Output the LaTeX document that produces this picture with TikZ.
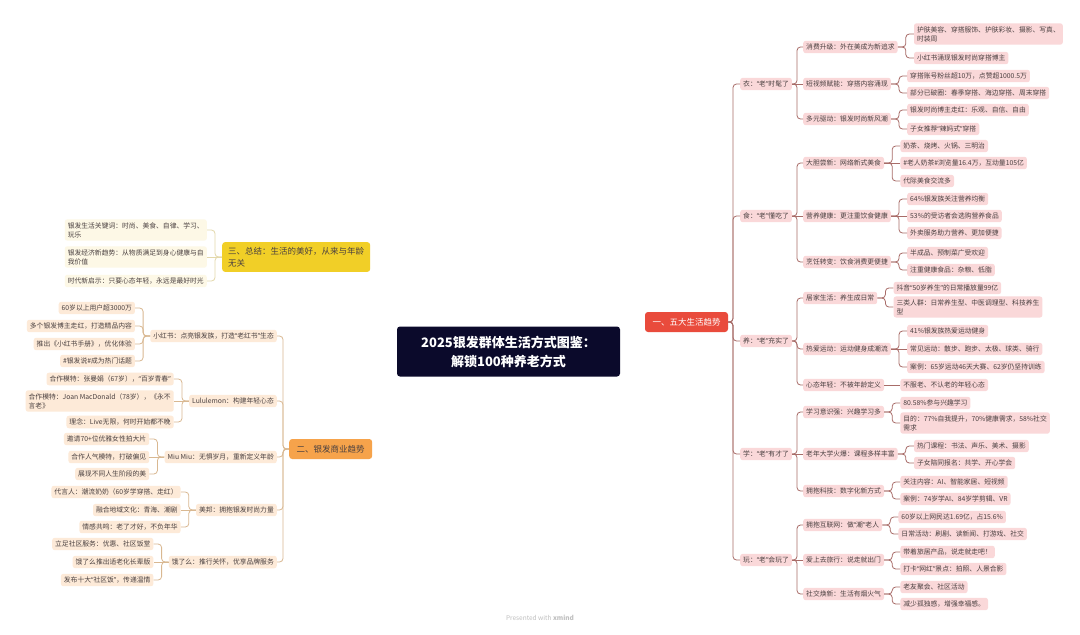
\documentclass[tikz,border=0pt]{standalone}
\usepackage{fontspec}
\setmainfont{Noto Sans CJK SC}
\newfontfamily\qfont{Noto Sans}
\newcommand\Qt[1]{{\qfont “}#1{\qfont ”}}
\usetikzlibrary{backgrounds,calc}
\definecolor{cRfill}{HTML}{FAD8D9}
\definecolor{cRline}{HTML}{A86C68}
\definecolor{cOfill}{HTML}{FDEAD8}
\definecolor{cOline}{HTML}{D9B891}
\definecolor{cYfill}{HTML}{FDF8E6}
\definecolor{cYline}{HTML}{E3D8AA}
\definecolor{cTxt}{HTML}{4A4040}
\definecolor{cNavy}{HTML}{0B0A2B}
\definecolor{cRed}{HTML}{E94B3C}
\definecolor{cOrange}{HTML}{F6A34B}
\definecolor{cYellow}{HTML}{F1CF27}
\definecolor{cRedCurve}{HTML}{C0504D}
\definecolor{cYCurve}{HTML}{D9D46A}
\definecolor{cOCurve}{HTML}{D6B27C}
\tikzset{
  base/.style={rounded corners=2.5pt, inner xsep=3pt, inner ysep=3pt, text=cTxt,
    font=\fontsize{6.8}{9}\selectfont, align=left},
  rbox/.style={base, fill=cRfill},
  obox/.style={base, fill=cOfill},
  ybox/.style={base, fill=cYfill},
  rcon/.style={draw=cRline, line width=0.8pt, rounded corners=3.5pt},
  ocon/.style={draw=cOline, line width=0.8pt, rounded corners=3.5pt},
  ycon/.style={draw=cYline, line width=0.8pt, rounded corners=3.5pt},
  main/.style={rounded corners=3pt, font=\fontsize{8.5}{12}\selectfont, minimum height=20pt, inner xsep=6pt},
  curve/.style={line width=1.2pt}
}
\newcommand\RL[4]{\path (#2.east) ++(16,0) coordinate (#1c);
  \node[rbox,anchor=west] (#1) at (#1c |- 0,#3) {#4};
  \draw[rcon] (#2.east) -- ++(8,0) |- (#1.west);}
\newcommand\RM[3]{\path (#2.east) ++(16,0) coordinate (#1c);
  \node[rbox,anchor=west] (#1) at (#1c) {#3};
  \draw[rcon] (#2.east) -- (#1.west);}
\newcommand\LL[5]{\path (#2.west) ++(-15,0) coordinate (#1c);
  \node[#5box,anchor=east] (#1) at (#1c |- 0,#3) {#4};
  \draw[#5con] (#2.west) -- ++(-7,0) |- (#1.east);}
\newcommand\LM[4]{\path (#2.west) ++(-15,0) coordinate (#1c);
  \node[#4box,anchor=east] (#1) at (#1c) {#3};
  \draw[#4con] (#2.west) -- (#1.east);}
\begin{document}
\begin{tikzpicture}[x=1pt,y=-1pt]
\fill[white] (0,0) rectangle (1080,635);
\useasboundingbox (0,0) rectangle (1080,635);

% central
\node[fill=cNavy, text=white, rounded corners=3pt, minimum width=223pt, minimum height=50pt,
  align=center, font=\fontsize{13}{19}\selectfont\bfseries] (c) at (508.5,351.5)
  {2025银发群体生活方式图鉴：\\解锁100种养老方式};

% ===== right branch =====
\node[main, fill=cRed, text=white, minimum width=83pt] (R) at (686.5,322) {一、五大生活趋势};

\node[rbox,anchor=west] (A) at (740,84) {衣：\Qt{老}时髦了};
\node[rbox,anchor=west] (B) at (740,216) {食：\Qt{老}懂吃了};
\node[rbox,anchor=west] (C) at (740,341) {养：\Qt{老}充实了};
\node[rbox,anchor=west] (D) at (740,454) {学：\Qt{老}有才了};
\node[rbox,anchor=west] (E) at (740,560) {玩：\Qt{老}会玩了};
\foreach \n in {A,B,C,D,E}{\draw[rcon] (R.east) -- (R.east -| 733,0) |- (\n.west);}

% level 3
\node[rbox,anchor=west] (A1) at (803,47) {消费升级：外在美成为新追求};
\node[rbox,anchor=west] (A2) at (803,84) {短视频赋能：穿搭内容涌现};
\node[rbox,anchor=west] (A3) at (803,119) {多元驱动：银发时尚新风潮};
\node[rbox,anchor=west] (B1) at (803,163) {大胆尝新：网络新式美食};
\node[rbox,anchor=west] (B2) at (803,216) {营养健康：更注重饮食健康};
\node[rbox,anchor=west] (B3) at (803,262) {烹饪转变：饮食消费更便捷};
\node[rbox,anchor=west] (C1) at (803,298) {居家生活：养生成日常};
\node[rbox,anchor=west] (C2) at (803,349) {热爱运动：运动健身成潮流};
\node[rbox,anchor=west] (C3) at (803,385) {心态年轻：不被年龄定义};
\node[rbox,anchor=west] (D1) at (803,412) {学习意识强：兴趣学习多};
\node[rbox,anchor=west] (D2) at (803,454) {老年大学火爆：课程多样丰富};
\node[rbox,anchor=west] (D3) at (803,491) {拥抱科技：数字化新方式};
\node[rbox,anchor=west] (E1) at (803,525) {拥抱互联网：做\Qt{潮}老人};
\node[rbox,anchor=west] (E2) at (803,560) {爱上去旅行：说走就出门};
\node[rbox,anchor=west] (E3) at (803,594) {社交焕新：生活有烟火气};
\foreach \p in {A,B,D,E}{
  \draw[rcon] (\p.east) -- (\p.east -| 797,0) |- (\p1.west);
  \draw[rcon] (\p.east) -- (\p2.west);
  \draw[rcon] (\p.east) -- (\p.east -| 797,0) |- (\p3.west);}
\foreach \k in {1,2,3}{\draw[rcon] (C.east) -- (C.east -| 797,0) |- (C\k.west);}

% leaves
\RL{A1a}{A1}{34}{护肤美容、穿搭服饰、护肤彩妆、摄影、写真、\\时装周}
\RL{A1b}{A1}{58}{小红书涌现银发时尚穿搭博主}
\RL{A2a}{A2}{76}{穿搭账号粉丝超10万，点赞超1000.5万}
\RL{A2b}{A2}{93}{部分已破圈：春季穿搭、海边穿搭、周末穿搭}
\RL{A3a}{A3}{110}{银发时尚博主走红：乐观、自信、自由}
\RL{A3b}{A3}{129}{子女推荐\Qt{辣妈式}穿搭}
\RL{B1a}{B1}{146}{奶茶、烧烤、火锅、三明治}
\RM{B1b}{B1}{\#老人奶茶\#浏览量16.4万，互动量105亿}
\RL{B1c}{B1}{181}{代际美食交流多}
\RL{B2a}{B2}{199}{64\%银发族关注营养均衡}
\RM{B2b}{B2}{53\%的受访者会选购营养食品}
\RL{B2c}{B2}{233}{外卖服务助力营养、更加便捷}
\RL{B3a}{B3}{253}{半成品、预制菜广受欢迎}
\RL{B3b}{B3}{270}{注重健康食品：杂粮、低脂}
\RL{C1a}{C1}{288}{抖音\Qt{50岁养生}的日常播放量99亿}
\RL{C1b}{C1}{307}{三类人群：日常养生型、中医调理型、科技养生\\型}
\RL{C2a}{C2}{331}{41\%银发族热爱运动健身}
\RM{C2b}{C2}{常见运动：散步、跑步、太极、球类、骑行}
\RL{C2c}{C2}{367}{案例：65岁运动46天大赛、62岁仍坚持训练}
\RM{C3a}{C3}{不服老、不认老的年轻心态}
\RL{D1a}{D1}{403}{80.58\%参与兴趣学习}
\RL{D1b}{D1}{423}{目的：77\%自我提升，70\%健康需求，58\%社交\\需求}
\RL{D2a}{D2}{446}{热门课程：书法、声乐、美术、摄影}
\RL{D2b}{D2}{463}{子女陪同报名：共学、开心学会}
\RL{D3a}{D3}{482}{关注内容：AI、智能家居、短视频}
\RL{D3b}{D3}{499}{案例：74岁学AI、84岁学剪辑、VR}
\RL{E1a}{E1}{517}{60岁以上网民达1.69亿，占15.6\%}
\RL{E1b}{E1}{534}{日常活动：刷剧、读新闻、打游戏、社交}
\RL{E2a}{E2}{552}{带着旅居产品，说走就走吧！}
\RL{E2b}{E2}{569}{打卡\Qt{网红}景点：拍照、人景合影}
\RL{E3a}{E3}{587}{老友聚会、社区活动}
\RL{E3b}{E3}{604}{减少孤独感，增强幸福感。}

% ===== left: summary =====
\node[main, fill=cYellow, text=cTxt, anchor=west, align=left, inner ysep=5pt] (T) at (222,257)
  {三、总结：生活的美好，从来与年龄\\无关};
\LL{Ta}{T}{230}{银发生活关键词：时尚、美食、自律、学习、\\玩乐}{y}
\LM{Tb}{T}{银发经济新趋势：从物质满足到身心健康与自\\我价值}{y}
\LL{Tc}{T}{281}{时代新启示：只要心态年轻，永远是最好时光}{y}

% ===== left: business =====
\node[main, fill=cOrange, text=cTxt, anchor=west, minimum width=83pt] (O) at (289,449) {二、银发商业趋势};
\node[obox,anchor=east] (O1) at (277,336) {小红书：点亮银发族，打造\Qt{老红书}生态};
\node[obox,anchor=east] (O2) at (277,401) {Lululemon：构建年轻心态};
\node[obox,anchor=east] (O3) at (277,457) {Miu Miu：无惧岁月，重新定义年龄};
\node[obox,anchor=east] (O4) at (277,510) {美邦：拥抱银发时尚力量};
\node[obox,anchor=east] (O5) at (277,562) {饿了么：推行关怀，优享品牌服务};
\foreach \k in {1,...,5}{\draw[ocon] (O.west) -- (O.west -| 283,0) |- (O\k.east);}

\LL{O1a}{O1}{308}{60岁以上用户超3000万}{o}
\LL{O1b}{O1}{326}{多个银发博主走红，打造精品内容}{o}
\LL{O1c}{O1}{344}{推出《小红书手册》，优化体验}{o}
\LL{O1d}{O1}{361}{\#银发说\#成为热门话题}{o}
\LL{O2a}{O2}{379}{合作模特：张曼娟（67岁），\Qt{百岁青春}}{o}
\LM{O2b}{O2}{合作模特：Joan MacDonald（78岁），《永不\\言老》}{o}
\LL{O2c}{O2}{422}{理念：Live无限，何时开始都不晚}{o}
\LL{O3a}{O3}{439}{邀请70+位优雅女性拍大片}{o}
\LM{O3b}{O3}{合作人气模特，打破偏见}{o}
\LL{O3c}{O3}{474}{展现不同人生阶段的美}{o}
\LL{O4a}{O4}{492}{代言人：潮流奶奶（60岁学穿搭、走红）}{o}
\LM{O4b}{O4}{融合地域文化：青海、潮剧}{o}
\LL{O4c}{O4}{527}{情感共鸣：老了才好，不负年华}{o}
\LL{O5a}{O5}{544}{立足社区服务：优惠、社区饭堂}{o}
\LM{O5b}{O5}{饿了么推出适老化长辈版}{o}
\LL{O5c}{O5}{580}{发布十大\Qt{社区饭}，传递温情}{o}

% watermark
\node[text=black!25, font=\fontsize{6.5}{8}\selectfont] (wm) at (540,618) {Presented with \textbf{xmind}};

% main curves
\begin{pgfonlayer}{background}
\draw[curve, draw=cYCurve] (T.east) .. controls (440,257) and (475,300) .. (c.center);
\draw[curve, draw=cOCurve] (O.east) .. controls (410,449) and (470,410) .. (c.center);
\draw[curve, draw=cRedCurve] (c.center) .. controls (600,351) and (615,322) .. (R.west);
\end{pgfonlayer}
\end{tikzpicture}
\end{document}
